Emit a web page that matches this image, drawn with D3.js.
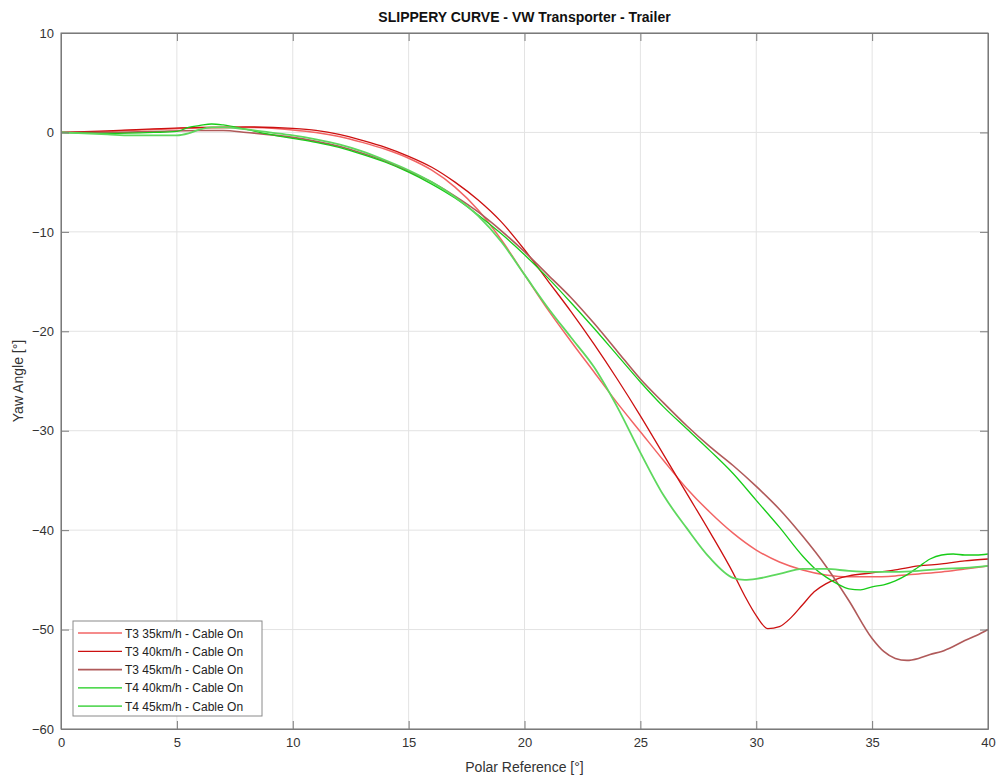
<!doctype html>
<html lang="en">
<head>
    <title>Slippery curve</title>
    <script src="https://d3js.org/d3.v7.min.js"></script>
    <style type="text/css">
    body { margin:0; background:#fff; }
    text { font-family: "Liberation Sans", Arial, sans-serif; }
    .grid line { stroke:#e3e3e3; stroke-width:1; }
    .axis path, .axis line { stroke:#7a7a7a; }
    .axis text { fill:#333; font-size:13px; }
    .curve { fill:none; stroke-linejoin:round; }
    </style>
</head>
<body>
</body>
<script type="text/javascript">

  // values
  var xTicks = [0, 5, 10, 15, 20, 25, 30, 35, 40]
  var yTicks = [-60, -50, -40, -30, -20, -10, 0, 10]

  var names = ["T3 35km/h - Cable On", "T3 40km/h - Cable On", "T3 45km/h - Cable On",
               "T4 40km/h - Cable On", "T4 45km/h - Cable On"]
  var colors = ["#f26464", "#cc1010", "#b05a5a", "#18cc18", "#5ed85e"]
  var widths = [1.5, 1.3, 1.6, 1.3, 1.8]

  var t3_35_x = [0, 2, 4, 6, 8, 10, 11, 12, 13, 14, 15, 16, 17, 18, 19, 20, 21, 22, 23, 24, 25, 26, 27, 28, 29, 30, 31, 32, 33, 34, 35, 36, 37, 38, 39, 40]
  var t3_35_y = [0, 0.1, 0.3, 0.45, 0.5, 0.25, 0, -0.4, -1.0, -1.7, -2.6, -3.8, -5.5, -7.8, -10.8, -14.3, -17.8, -21.0, -24.1, -27.2, -30.1, -33.0, -35.8, -38.2, -40.3, -42.0, -43.2, -44.0, -44.5, -44.7, -44.7, -44.6, -44.4, -44.2, -43.9, -43.6]

  var t3_40_x = [0, 2, 4, 6, 8, 10, 11, 12, 13, 14, 15, 16, 17, 18, 19, 20, 21, 22, 23, 24, 25, 26, 27, 28, 29, 29.5, 30, 30.5, 31, 31.5, 32, 32.5, 33, 33.5, 34, 35, 36, 37, 38, 39, 40]
  var t3_40_y = [0, 0.15, 0.35, 0.5, 0.55, 0.4, 0.2, -0.2, -0.8, -1.5, -2.4, -3.5, -5.0, -6.8, -9.0, -11.8, -14.9, -18.0, -21.3, -24.8, -28.5, -32.4, -36.3, -40.2, -44.3, -46.6, -48.6, -49.9, -49.7, -48.8, -47.5, -46.2, -45.4, -44.9, -44.6, -44.3, -44.0, -43.6, -43.4, -43.1, -42.9]

  var t3_45_x = [0, 2, 4, 6, 7, 8, 10, 11, 12, 13, 14, 15, 16, 17, 18, 19, 20, 21, 22, 23, 24, 25, 26, 27, 28, 29, 30, 31, 32, 33, 34, 35, 35.5, 36, 36.5, 37, 37.5, 38, 38.5, 39, 39.5, 40]
  var t3_45_y = [0, 0, 0.1, 0.2, 0.2, 0, -0.5, -0.9, -1.4, -2.1, -2.9, -3.9, -5.0, -6.4, -8.0, -9.9, -12.0, -14.3, -16.6, -19.2, -22.0, -24.8, -27.2, -29.5, -31.6, -33.5, -35.6, -37.9, -40.6, -43.6, -47.1, -50.9, -52.2, -52.9, -53.1, -52.9, -52.5, -52.2, -51.7, -51.1, -50.6, -50.0]

  var t4_40_x = [0, 2, 4, 5, 5.5, 6, 6.5, 7, 8, 9, 10, 11, 12, 13, 14, 15, 16, 17, 18, 19, 20, 21, 22, 23, 24, 25, 26, 27, 28, 29, 30, 31, 32, 32.5, 33, 33.5, 34, 34.5, 35, 35.5, 36, 36.5, 37, 37.5, 38, 38.5, 39, 39.5, 40]
  var t4_40_y = [0, -0.1, 0, 0.1, 0.5, 0.7, 0.85, 0.75, 0.3, -0.2, -0.6, -1.0, -1.5, -2.2, -3.0, -4.0, -5.2, -6.6, -8.3, -10.2, -12.3, -14.6, -17.1, -19.7, -22.4, -25.1, -27.6, -29.8, -32.0, -34.3, -37.0, -39.7, -42.6, -43.8, -44.7, -45.4, -45.9, -46.0, -45.7, -45.5, -45.1, -44.5, -43.7, -42.9, -42.5, -42.4, -42.5, -42.5, -42.4]

  var t4_45_x = [0, 1, 2, 3, 4, 5, 5.5, 6, 6.5, 7, 8, 9, 10, 11, 12, 13, 14, 15, 16, 17, 18, 19, 20, 21, 22, 23, 24, 25, 26, 27, 28, 29, 29.5, 30, 31, 32, 33, 34, 35, 36, 37, 38, 39, 40]
  var t4_45_y = [0, -0.1, -0.2, -0.3, -0.3, -0.3, -0.1, 0.3, 0.5, 0.5, 0.3, 0.0, -0.3, -0.7, -1.2, -1.9, -2.8, -3.8, -5.0, -6.5, -8.4, -11.0, -14.3, -17.6, -20.6, -23.6, -27.6, -32.2, -36.5, -39.8, -42.8, -44.8, -45.0, -44.9, -44.4, -43.9, -43.9, -44.1, -44.2, -44.2, -44.1, -43.9, -43.8, -43.6]

  var seriesX = [t3_35_x, t3_40_x, t3_45_x, t4_40_x, t4_45_x]
  var seriesY = [t3_35_y, t3_40_y, t3_45_y, t4_40_y, t4_45_y]

  var margin = {top:33, bottom:49, left:61, right:12};
  var W = 1000, H = 778;
  var width  = W - margin.left - margin.right;
  var height = H - margin.top  - margin.bottom;

  var xScale = d3.scaleLinear().domain([0,40]).range([0,width])
  var yScale = d3.scaleLinear().domain([-60,10]).range([height,0])

  var svg = d3.select("body")
  .append("svg")
  .attr("width", W)
  .attr("height", H)

  var g = svg.append("g")
  .attr("transform", "translate("+margin.left+","+margin.top+")");

  // grid
  g.append("g").attr("class","grid")
  .selectAll("line.gx").data(xTicks).enter().append("line")
  .attr("x1", d=>xScale(d)).attr("x2", d=>xScale(d))
  .attr("y1", 0).attr("y2", height)

  g.append("g").attr("class","grid")
  .selectAll("line.gy").data(yTicks).enter().append("line")
  .attr("x1", 0).attr("x2", width)
  .attr("y1", d=>yScale(d)).attr("y2", d=>yScale(d))

  // curves
  var line = d3.line()
  .x(d=>xScale(d[0]))
  .y(d=>yScale(d[1]))
  .curve(d3.curveMonotoneX);

  seriesX.forEach((xs,i)=>{
    var pts = xs.map((x,j)=>[x, seriesY[i][j]])
    g.append("path")
    .attr("class","curve")
    .attr("d", line(pts))
    .style("stroke", colors[i])
    .style("stroke-width", widths[i])
  })

  // axes, ticks pointing inward on all four sides
  g.append("g")
  .attr("class","x axis")
  .attr("transform","translate(0,"+height+")")
  .call(d3.axisBottom(xScale).tickValues(xTicks).tickSize(-8).tickPadding(9).tickSizeOuter(0))

  g.append("g")
  .attr("class","y axis")
  .call(d3.axisLeft(yScale).tickValues(yTicks).tickSize(-8).tickPadding(7).tickSizeOuter(0))

  g.append("g")
  .attr("class","axis")
  .call(d3.axisTop(xScale).tickValues(xTicks).tickSize(-8).tickFormat("").tickSizeOuter(0))

  g.append("g")
  .attr("class","axis")
  .attr("transform","translate("+width+",0)")
  .call(d3.axisRight(yScale).tickValues(yTicks).tickSize(-8).tickFormat("").tickSizeOuter(0))

  g.append("rect")
  .attr("width", width).attr("height", height)
  .style("fill","none").style("stroke","#7a7a7a")

  // titles
  svg.append("text")
  .attr("x", margin.left + width/2).attr("y", 22)
  .attr("text-anchor","middle")
  .style("font-weight","bold").style("font-size","14px").style("fill","#111")
  .text("SLIPPERY CURVE - VW Transporter - Trailer")

  svg.append("text")
  .attr("x", margin.left + width/2).attr("y", 772)
  .attr("text-anchor","middle")
  .style("font-size","14px").style("fill","#333")
  .text("Polar Reference [°]")

  svg.append("text")
  .attr("transform","translate(23,"+(margin.top+height/2)+") rotate(-90)")
  .attr("text-anchor","middle")
  .style("font-size","14px").style("fill","#333")
  .text("Yaw Angle [°]")

  // legend
  var lg = svg.append("g").attr("transform","translate(73,621)")
  lg.append("rect")
  .attr("width",189).attr("height",95)
  .style("fill","#fff").style("stroke","#8a8a8a")

  var item = lg.selectAll(".item").data(names).enter().append("g")
  .attr("transform",(d,i)=>"translate(0,"+(12+i*18.3)+")")

  item.append("line")
  .attr("x1",5).attr("x2",49).attr("y1",0).attr("y2",0)
  .style("stroke",(d,i)=>colors[i])
  .style("stroke-width",(d,i)=>widths[i])

  item.append("text")
  .attr("x",52).attr("y",4.5)
  .style("font-size","12px").style("fill","#222")
  .text(d=>d)

</script>
</html>
